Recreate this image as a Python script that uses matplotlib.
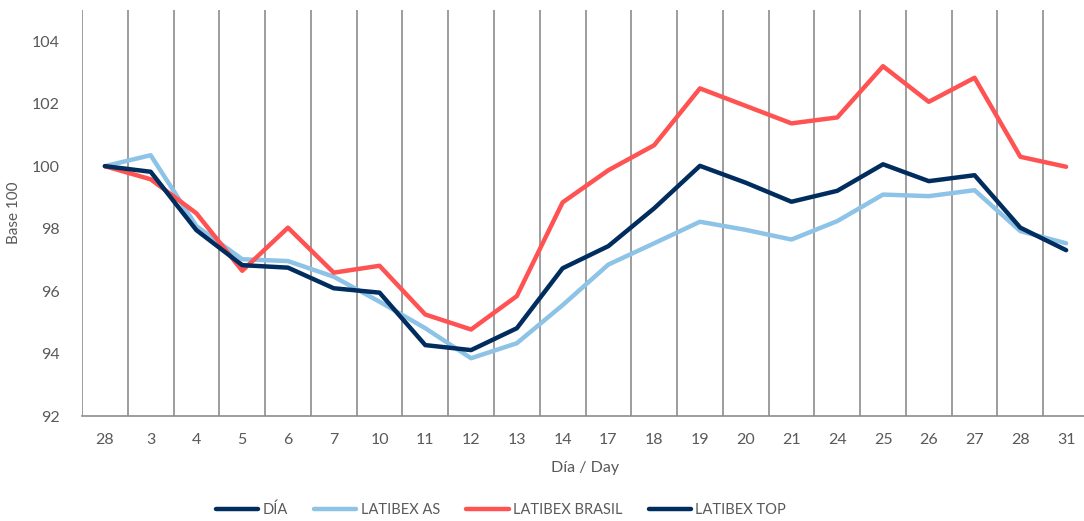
"""Latibex indices, base 100, daily close over the month."""

import matplotlib
matplotlib.use("Agg")
import matplotlib.pyplot as plt
import numpy as np

days = ["28", "3", "4", "5", "6", "7", "10", "11", "12", "13", "14",
        "17", "18", "19", "20", "21", "24", "25", "26", "27", "28", "31"]

latibex_as = [100.00, 100.35, 98.08, 97.02, 96.96, 96.46, 95.66, 94.81, 93.85, 94.33, 95.55,
              96.85, 97.53, 98.22, 97.96, 97.65, 98.24, 99.09, 99.04, 99.23, 97.92, 97.53]
latibex_brasil = [100.00, 99.58, 98.49, 96.65, 98.03, 96.59, 96.81, 95.25, 94.77, 95.84, 98.84,
                  99.87, 100.67, 102.49, 101.93, 101.37, 101.56, 103.20, 102.06, 102.83, 100.30, 99.98]
latibex_top = [100.00, 99.82, 97.95, 96.83, 96.75, 96.09, 95.95, 94.27, 94.11, 94.81, 96.73,
               97.44, 98.65, 100.01, 99.47, 98.86, 99.21, 100.06, 99.52, 99.71, 98.03, 97.31]
dia = []  # series present only in the legend

NAVY = "#002D5E"
LIGHT = "#8DC3E6"
RED = "#FF5252"
GREY = "#595959"

plt.rcParams["font.family"] = ["Lato", "DejaVu Sans"]

fig = plt.figure(figsize=(10.84, 5.21), dpi=100)
ax = fig.add_axes([82 / 1084, 1 - 416 / 521, 1007 / 1084, 406 / 521])

x = np.arange(len(days))
ax.plot(dia, dia, color=NAVY, lw=3.2, label="DÍA", solid_capstyle="round")
ax.plot(x, latibex_as, color=LIGHT, lw=3.2, label="LATIBEX AS", solid_capstyle="round")
ax.plot(x, latibex_brasil, color=RED, lw=3.2, label="LATIBEX BRASIL", solid_capstyle="round")
ax.plot(x, latibex_top, color=NAVY, lw=3.2, label="LATIBEX TOP", solid_capstyle="round")

# vertical separators between categories
for b in np.arange(-0.5, len(days) - 1, 1.0):
    ax.axvline(b, color="#8C8C8C", lw=1.2, zorder=0)

ax.set_xlim(-0.5, len(days) - 0.5)
ax.set_ylim(92, 105)
ax.set_yticks(np.arange(92, 105, 2))
ax.set_xticks(x)
ax.set_xticklabels(days)
ax.tick_params(axis="both", length=0, labelsize=11.5, colors=GREY)
ax.tick_params(axis="x", pad=12)
ax.tick_params(axis="y", pad=16)

for s in ["top", "right", "left"]:
    ax.spines[s].set_visible(False)
ax.spines["bottom"].set_color("#8C8C8C")
ax.spines["bottom"].set_linewidth(1.2)

ax.set_xlabel("Día / Day", fontsize=11.5, color=GREY, labelpad=10)
ax.set_ylabel("Base 100", fontsize=11, color=GREY, labelpad=8)

fig.legend(loc="center left", bbox_to_anchor=(216 / 1084, 1 - 510 / 521), ncol=4,
           frameon=False, fontsize=10.5,
           handlelength=2.9, handletextpad=0.3, columnspacing=1.8,
           labelcolor=GREY, borderpad=0, borderaxespad=0)

fig.savefig("out.png", dpi=100, facecolor="white")
